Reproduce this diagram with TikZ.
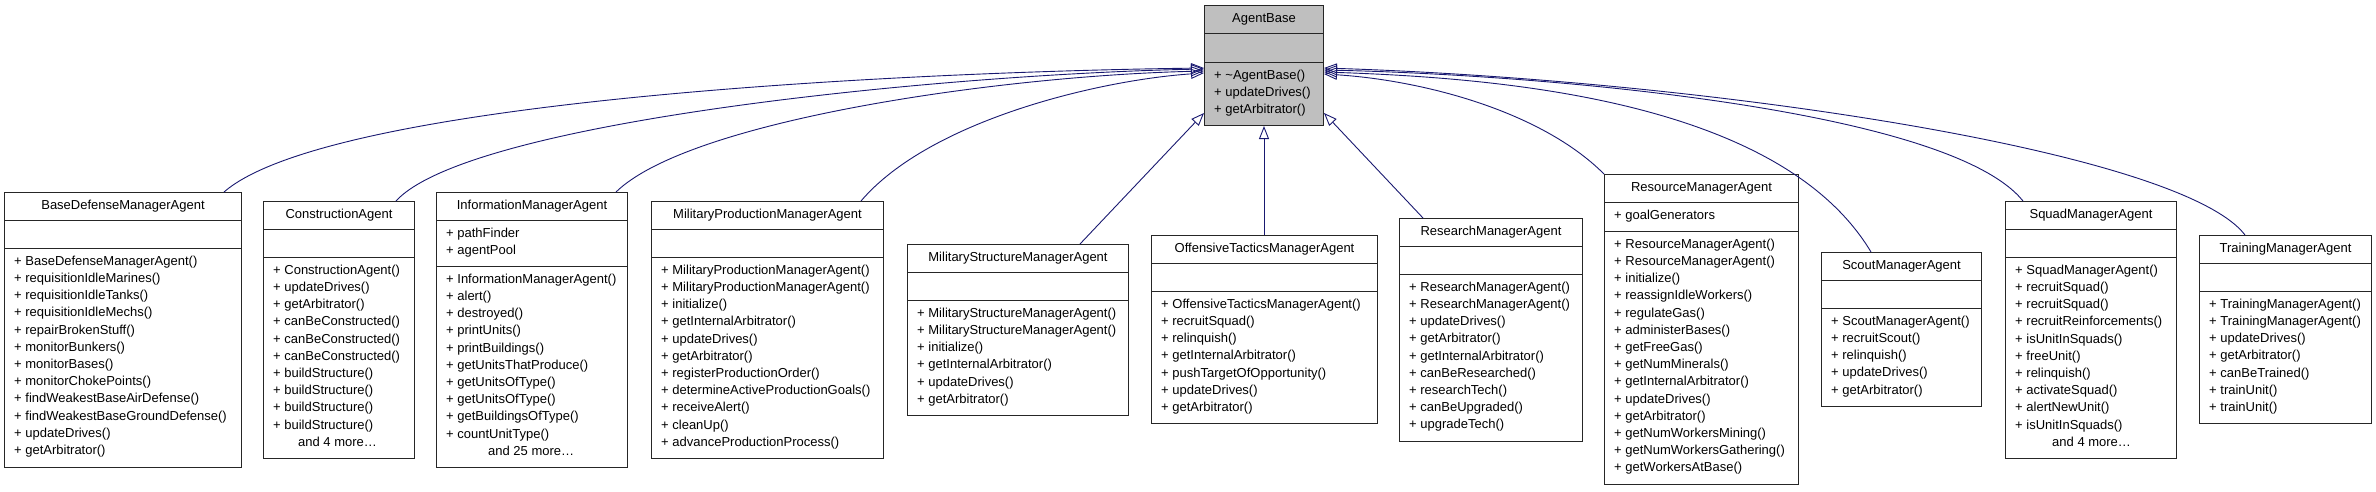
\documentclass[tikz,border=0pt]{standalone}
\usepackage{fontspec}
\setmainfont{Liberation Sans}
\usepackage{tikz}
\usetikzlibrary{arrows.meta, calc}
\definecolor{edgenavy}{RGB}{25, 25, 112}
\definecolor{basegray}{RGB}{191, 191, 191}

% one UML class box: name, x left, x right, y top, y bottom, title, attr height, attrs, ops
\newcommand\classbox[9]{%
  \node[cls, minimum width={#3pt-#2pt}, minimum height={#5pt-#4pt}] (#1) at (#2,#4) {};
  \draw[sect] ($(#1.north west)+(0,28)$) -- ($(#1.north east)+(0,28)$);
  \draw[sect] ($(#1.north west)+(0,{28+#7})$) -- ($(#1.north east)+(0,{28+#7})$);
  \node[title] at ($(#1.north)+(0,14)$) {#6};
  \foreach \t [count=\i] in {#8}
    \node[member] at ($(#1.north west)+(10,{28+17.2*\i})$) {\t};
  \foreach \t [count=\i] in {#9}
    \node[member] at ($(#1.north west)+(10,{28+#7+17.2*\i})$) {\t};
}

\begin{document}
\begin{tikzpicture}[
    x=1pt, y=-1pt,
    cls/.style={rectangle, draw=black!85, line width=1pt, anchor=north west, inner sep=0pt},
    sect/.style={draw=black!85, line width=1pt},
    title/.style={font=\fontsize{13}{15}\selectfont, inner sep=0pt},
    member/.style={font=\fontsize{13}{15}\selectfont, anchor=base west, inner sep=0pt},
    inherit/.style={edgenavy, line width=0.9pt, -{Triangle[open, length=13pt, width=10pt]}}
]
\useasboundingbox (0,0) rectangle (2376,491);

% base class
\node[cls, fill=basegray, minimum width=119pt, minimum height=120pt] (base) at (1204,5) {};
\draw[sect] ($(base.north west)+(0,28)$) -- ($(base.north east)+(0,28)$);
\draw[sect] ($(base.north west)+(0,57)$) -- ($(base.north east)+(0,57)$);
\node[title] at ($(base.north)+(0,14)$) {AgentBase};
\foreach \t [count=\i] in {+ \textasciitilde AgentBase(), + updateDrives(), + getArbitrator()}
  \node[member] at ($(base.north west)+(10,{57+17.2*\i})$) {\t};

% derived classes
\classbox{basedef}{4}{241}{192}{467}{BaseDefenseManagerAgent}{28}{}{+ BaseDefenseManagerAgent(), + requisitionIdleMarines(), + requisitionIdleTanks(), + requisitionIdleMechs(), + repairBrokenStuff(), + monitorBunkers(), + monitorBases(), + monitorChokePoints(), + findWeakestBaseAirDefense(), + findWeakestBaseGroundDefense(), + updateDrives(), + getArbitrator()}
\classbox{construct}{263}{414}{201}{458}{ConstructionAgent}{28}{}{+ ConstructionAgent(), + updateDrives(), + getArbitrator(), + canBeConstructed(), + canBeConstructed(), + canBeConstructed(), + buildStructure(), + buildStructure(), + buildStructure(), + buildStructure(), {\hspace*{25pt}and 4 more\ldots}}
\classbox{info}{436}{627}{192}{467}{InformationManagerAgent}{46}{+ pathFinder, + agentPool}{+ InformationManagerAgent(), + alert(), + destroyed(), + printUnits(), + printBuildings(), + getUnitsThatProduce(), + getUnitsOfType(), + getUnitsOfType(), + getBuildingsOfType(), + countUnitType(), {\hspace*{42pt}and 25 more\ldots}}
\classbox{milprod}{651}{883}{201}{458}{MilitaryProductionManagerAgent}{28}{}{+ MilitaryProductionManagerAgent(), + MilitaryProductionManagerAgent(), + initialize(), + getInternalArbitrator(), + updateDrives(), + getArbitrator(), + registerProductionOrder(), + determineActiveProductionGoals(), + receiveAlert(), + cleanUp(), + advanceProductionProcess()}
\classbox{milstruct}{907}{1128}{244}{415}{MilitaryStructureManagerAgent}{28}{}{+ MilitaryStructureManagerAgent(), + MilitaryStructureManagerAgent(), + initialize(), + getInternalArbitrator(), + updateDrives(), + getArbitrator()}
\classbox{offense}{1151}{1377}{235}{423}{OffensiveTacticsManagerAgent}{28}{}{+ OffensiveTacticsManagerAgent(), + recruitSquad(), + relinquish(), + getInternalArbitrator(), + pushTargetOfOpportunity(), + updateDrives(), + getArbitrator()}
\classbox{research}{1399}{1582}{218}{441}{ResearchManagerAgent}{28}{}{+ ResearchManagerAgent(), + ResearchManagerAgent(), + updateDrives(), + getArbitrator(), + getInternalArbitrator(), + canBeResearched(), + researchTech(), + canBeUpgraded(), + upgradeTech()}
\classbox{resource}{1604}{1798}{174}{484}{ResourceManagerAgent}{29}{+ goalGenerators}{+ ResourceManagerAgent(), + ResourceManagerAgent(), + initialize(), + reassignIdleWorkers(), + regulateGas(), + administerBases(), + getFreeGas(), + getNumMinerals(), + getInternalArbitrator(), + updateDrives(), + getArbitrator(), + getNumWorkersMining(), + getNumWorkersGathering(), + getWorkersAtBase()}
\classbox{scout}{1821}{1981}{252}{406}{ScoutManagerAgent}{28}{}{+ ScoutManagerAgent(), + recruitScout(), + relinquish(), + updateDrives(), + getArbitrator()}
\classbox{squad}{2005}{2176}{201}{458}{SquadManagerAgent}{28}{}{+ SquadManagerAgent(), + recruitSquad(), + recruitSquad(), + recruitReinforcements(), + isUnitInSquads(), + freeUnit(), + relinquish(), + activateSquad(), + alertNewUnit(), + isUnitInSquads(), {\hspace*{37pt}and 4 more\ldots}}
\classbox{training}{2199}{2371}{235}{423}{TrainingManagerAgent}{28}{}{+ TrainingManagerAgent(), + TrainingManagerAgent(), + updateDrives(), + getArbitrator(), + canBeTrained(), + trainUnit(), + trainUnit()}

% inheritance
\draw[inherit] ($(basedef.north west)+(220,0)$) .. controls (330,100) and (900,72) .. ($(base.north west)+(0,63)$);
\draw[inherit] ($(construct.north west)+(133,0)$) .. controls (470,120) and (950,74) .. ($(base.north west)+(0,64)$);
\draw[inherit] ($(info.north west)+(180,0)$) .. controls (690,120) and (1000,76) .. ($(base.north west)+(0,66)$);
\draw[inherit] ($(milprod.north west)+(210,0)$) .. controls (930,120) and (1100,80) .. ($(base.north west)+(0,68)$);
\draw[inherit] ($(milstruct.north west)+(173,0)$) -- ($(base.north west)+(0,108)$);
\draw[inherit] ($(offense.north west)+(113,0)$) -- (base.south);
\draw[inherit] ($(research.north west)+(24,0)$) -- ($(base.north east)+(0,108)$);
\draw[inherit] (resource.north west) .. controls (1540,110) and (1420,80) .. ($(base.north east)+(0,69)$);
\draw[inherit] ($(scout.north west)+(50,0)$) .. controls (1780,100) and (1500,78) .. ($(base.north east)+(0,67)$);
\draw[inherit] ($(squad.north west)+(18,0)$) .. controls (1950,110) and (1550,75) .. ($(base.north east)+(0,65)$);
\draw[inherit] ($(training.north west)+(46,0)$) .. controls (2180,150) and (1700,80) .. ($(base.north east)+(0,63)$);
\end{tikzpicture}
\end{document}
